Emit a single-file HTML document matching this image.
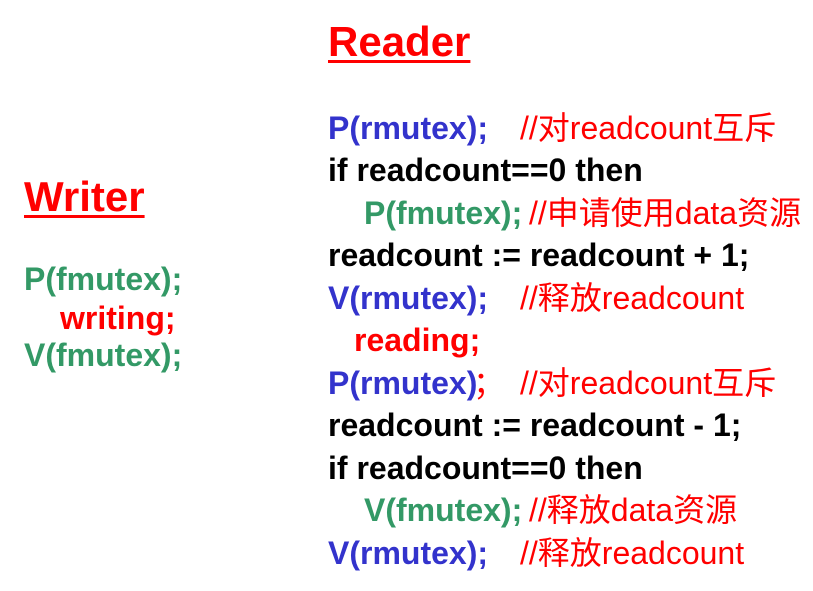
<!DOCTYPE html>
<html><head><meta charset="utf-8"><style>
body{margin:0;width:813px;height:591px;background:#fff;position:relative;overflow:hidden;font-family:"Liberation Sans","Noto Sans CJK SC",sans-serif;}
.l{position:absolute;white-space:pre;font-weight:bold;font-size:32px;line-height:40px;color:#000;}
.b{color:#3333cc}.g{color:#339966}.r{color:#ff0000}
.c{color:#ff0000;font-weight:normal;position:absolute;}
.t{position:absolute;font-weight:bold;font-size:42px;line-height:46px;color:#ff0000;text-decoration:underline;text-decoration-thickness:3px;text-underline-offset:4px}
.w{position:absolute;white-space:pre;font-weight:bold;font-size:32px;line-height:38px}
</style></head><body>
<div class="t" style="left:328px;top:19px">Reader</div>
<div class="t" style="left:24px;top:174px">Writer</div>
<div class="w g" style="left:24px;top:260px">P(fmutex);</div>
<div class="w r" style="left:60px;top:299px">writing;</div>
<div class="w g" style="left:24px;top:336px">V(fmutex);</div>
<div class="l" style="left:328px;top:108px;width:480px"><span class="b">P(rmutex);</span><span class="c" style="left:192px">//对readcount互斥</span></div>
<div class="l" style="left:328px;top:150px">if readcount==0 then</div>
<div class="l" style="left:364px;top:193px;width:440px"><span class="g">P(fmutex);</span><span class="c" style="left:165px">//申请使用data资源</span></div>
<div class="l" style="left:328px;top:235px">readcount := readcount + 1;</div>
<div class="l" style="left:328px;top:278px;width:480px"><span class="b">V(rmutex);</span><span class="c" style="left:192px">//释放readcount</span></div>
<div class="l r" style="left:354px;top:320px">reading;</div>
<div class="l" style="left:328px;top:363px;width:480px"><span class="b">P(rmutex)</span><span class="c" style="left:145px">；</span><span class="c" style="left:192px">//对readcount互斥</span></div>
<div class="l" style="left:328px;top:405px">readcount := readcount - 1;</div>
<div class="l" style="left:328px;top:448px">if readcount==0 then</div>
<div class="l" style="left:364px;top:490px;width:440px"><span class="g">V(fmutex);</span><span class="c" style="left:165px">//释放data资源</span></div>
<div class="l" style="left:328px;top:533px;width:480px"><span class="b">V(rmutex);</span><span class="c" style="left:192px">//释放readcount</span></div>
</body></html>
